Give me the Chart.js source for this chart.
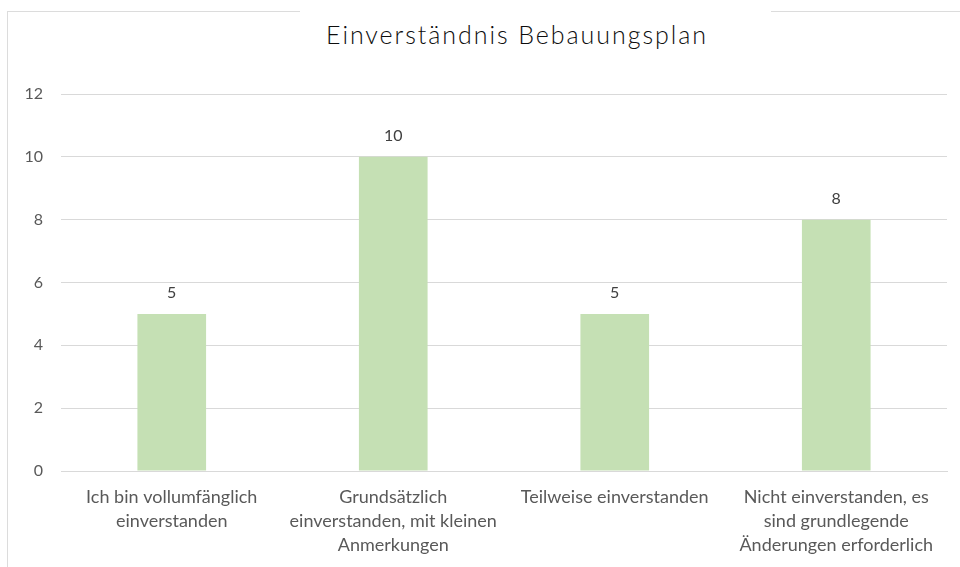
<!DOCTYPE html>
<html>
<head>
<meta charset="utf-8">
<script src="https://cdn.jsdelivr.net/npm/chart.js@4/dist/chart.umd.min.js"></script>
<style>
    html, body { margin: 0; padding: 0; background: #fff; }
    body { width: 960px; height: 567px; position: relative; overflow: hidden; }
    .rahmen { position: absolute; left: 7px; top: 11px; width: 960px; height: 600px; border-left: 1px solid #dcdcdc; border-top: 1px solid #dcdcdc; }
    .titel { position: absolute; left: 300px; top: 6px; width: 471px; height: 50px; background: #fff;
        font-family: Lato, sans-serif; font-weight: 300; font-size: 25px; color: #0d0d0d; text-align: center; line-height: 56px; letter-spacing: 1.95px; padding-right: 37px; box-sizing: border-box; white-space: nowrap; }
    .flaeche { position: absolute; left: 8px; top: 12px; width: 952px; height: 555px; }
</style>
</head>
<body>
<div class="rahmen"></div>
<div class="titel">Einverständnis Bebauungsplan</div>
<div class="flaeche"><canvas id="grafica"></canvas></div>
<script>
const kategorien = [
    ["Ich bin vollumfänglich", "einverstanden"],
    ["Grundsätzlich", "einverstanden, mit kleinen", "Anmerkungen"],
    ["Teilweise einverstanden"],
    ["Nicht einverstanden, es", "sind grundlegende", "Änderungen erforderlich"]
];
const antworten = [5, 10, 5, 8];
const yTicks = [0, 2, 4, 6, 8, 10, 12];

const colorTexto = "#595959";
const colorEtiqueta = "#404040";
const colorGrid = "#d9d9d9";
const colorBarra = "#c5e0b4";

const etiquetasValor = {
    id: "etiquetasValor",
    afterDatasetsDraw(chart) {
        const ctx = chart.ctx;
        const meta = chart.getDatasetMeta(0);
        ctx.save();
        ctx.font = "16px Lato, sans-serif";
        ctx.fillStyle = colorEtiqueta;
        ctx.textAlign = "center";
        ctx.textBaseline = "middle";
        meta.data.forEach((barra, i) => {
            ctx.fillText(String(antworten[i]), barra.x, barra.y - 21);
        });
        ctx.restore();
    }
};

new Chart(document.getElementById("grafica"), {
    type: "bar",
    data: {
        labels: kategorien,
        datasets: [{
            data: antworten,
            backgroundColor: colorBarra,
            borderWidth: 0,
            barPercentage: 0.31,
            categoryPercentage: 1
        }]
    },
    options: {
        responsive: true,
        maintainAspectRatio: false,
        animation: false,
        layout: { padding: { top: 82, right: 13, left: 0, bottom: 0 } },
        plugins: {
            legend: { display: false },
            tooltip: { enabled: false }
        },
        scales: {
            x: {
                grid: { display: false, drawTicks: false },
                border: { display: true, color: colorGrid, width: 1 },
                ticks: {
                    color: colorTexto,
                    font: { family: "Lato, sans-serif", size: 18, lineHeight: 1.33 },
                    padding: 14,
                    maxRotation: 0,
                    autoSkip: false
                },
                afterFit(scale) { scale.height = 96; }
            },
            y: {
                min: 0,
                max: 12,
                afterBuildTicks(scale) { scale.ticks = yTicks.map(v => ({ value: v })); },
                grid: { color: colorGrid, drawTicks: false },
                border: { display: false },
                ticks: {
                    color: colorTexto,
                    font: { family: "Lato, sans-serif", size: 16 },
                    padding: 18
                },
                afterFit(scale) { scale.width = 53; }
            }
        }
    },
    plugins: [etiquetasValor]
});
</script>
</body>
</html>
